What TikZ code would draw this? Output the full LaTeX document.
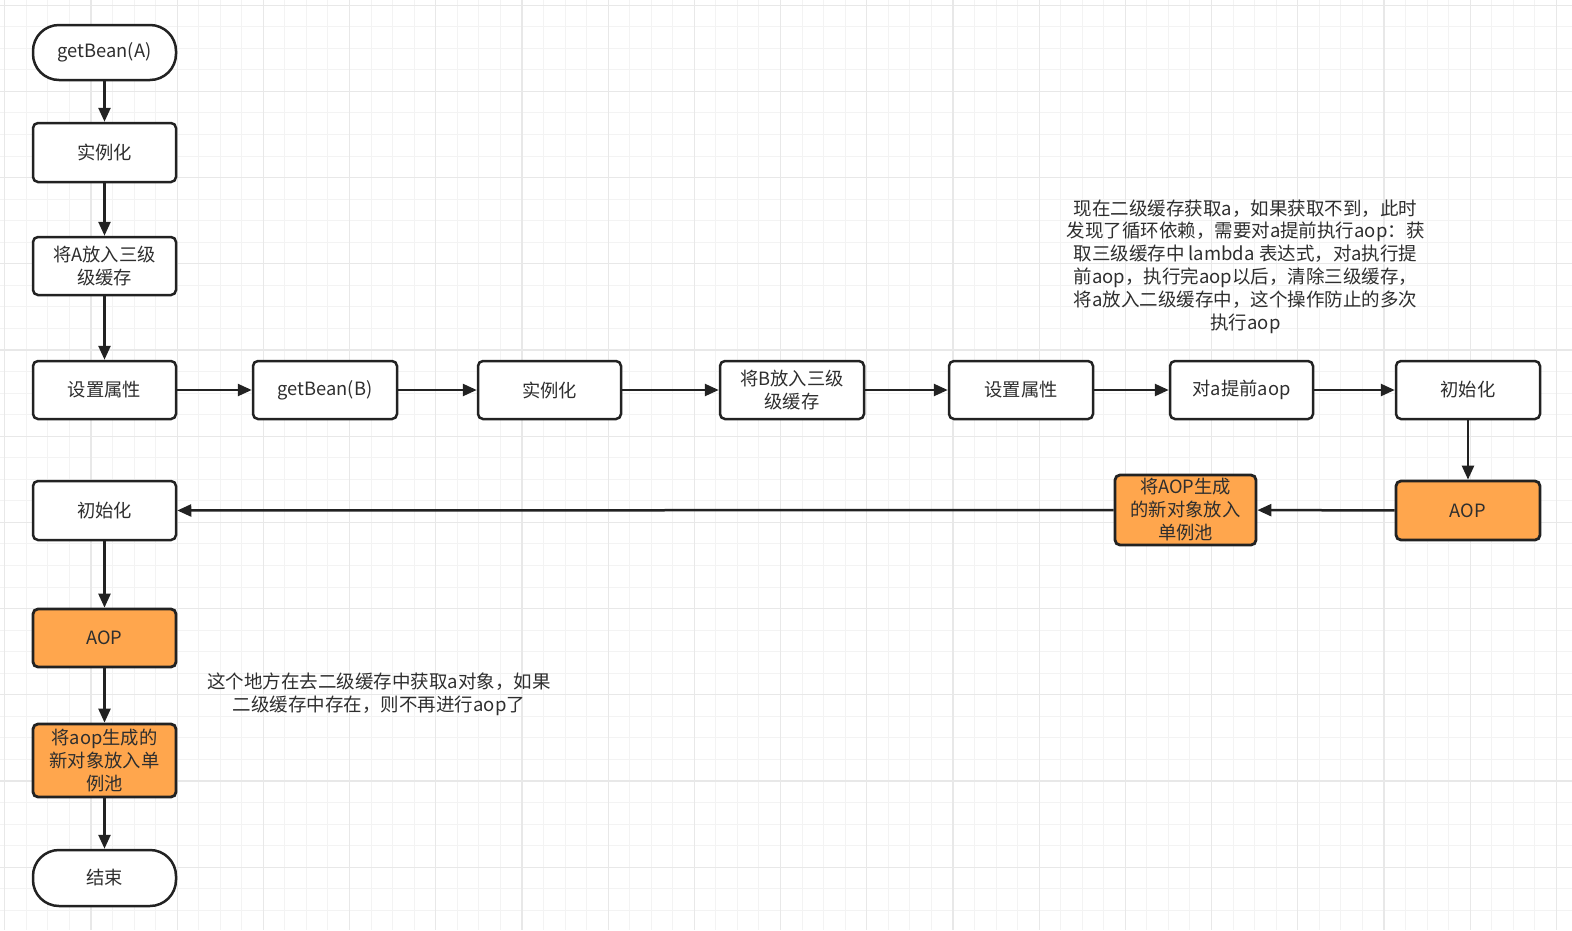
\documentclass[tikz,border=0pt]{standalone}
\usepackage{fontspec}
\setmainfont{Noto Sans CJK SC}
\usetikzlibrary{arrows.meta}
\definecolor{gminor}{HTML}{F3F3F3}
\definecolor{gmajor}{HTML}{E8E8E8}
\definecolor{edgec}{HTML}{222222}
\definecolor{txt}{HTML}{2E2E2E}
\definecolor{aopfill}{HTML}{FFA64D}
\begin{document}
\begin{tikzpicture}[x=1pt,y=-1pt,
  box/.style={draw=edgec, line width=2.5pt, rounded corners=5pt, fill=white,
    minimum width=143pt, minimum height=58pt, inner sep=0pt, align=center,
    text=txt, font=\fontsize{18.3}{23}\selectfont},
  term/.style={box, rounded corners=26pt, minimum height=55pt},
  aopbox/.style={box, fill=aopfill, line width=2.8pt},
  note/.style={align=center, text=txt, font=\fontsize{18.5}{22.8}\selectfont, inner sep=0pt},
  arr/.style={draw=edgec, line width=2.5pt, -{Triangle[length=14pt,width=12pt]}},
  minorg/.style={draw=gminor, line width=1pt},
  majorg/.style={draw=gmajor, line width=1.2pt}
]
\useasboundingbox (0,0) rectangle (1572,930);
\fill[white] (0,0) rectangle (1572,930);
\begin{scope}
\clip (0,0) rectangle (1572,930);
\foreach \i in {0,...,72} { \draw[minorg] ({4.7+21.55*\i},0) -- ({4.7+21.55*\i},930); }
\foreach \j in {0,...,43} { \draw[minorg] (0,{5.2+21.55*\j}) -- (1572,{5.2+21.55*\j}); }
\foreach \i in {0,4,...,72} { \draw[majorg] ({4.7+21.55*\i},0) -- ({4.7+21.55*\i},930); }
\foreach \j in {0,4,...,43} { \draw[majorg] (0,{5.2+21.55*\j}) -- (1572,{5.2+21.55*\j}); }
\end{scope}

% column 1
\node[term] (gA) at (104.5,52.5) {getBean(A)};
\node[box, minimum height=59pt] (s1) at (104.5,152.5) {实例化};
\node[box] (s2) at (104.5,266) {将A放入三级\\级缓存};
\node[box] (s3) at (104.5,390) {设置属性};
% row 2
\node[box, minimum width=144pt] (gB) at (325,390) {getBean(B)};
\node[box] (instB) at (549.5,390) {实例化};
\node[box, minimum width=144pt] (putB) at (792,390) {将B放入三级\\级缓存};
\node[box, minimum width=144pt] (setB) at (1021,390) {设置属性};
\node[box] (early) at (1241.5,390) {对a提前aop};
\node[box, minimum width=144pt] (initB) at (1468,390) {初始化};
% row 3
\node[aopbox, minimum width=144pt, minimum height=59pt] (aopB) at (1468,510.5) {AOP};
\node[aopbox, minimum width=141pt, minimum height=70pt] (newB) at (1185.5,510) {将AOP生成\\的新对象放入\\单例池};
\node[box, minimum height=59pt] (initA) at (104.5,510.5) {初始化};
% column 1 lower
\node[aopbox] (aopA) at (104.5,638) {AOP};
\node[aopbox, minimum height=73pt] (putA) at (104.5,760.5) {将aop生成的\\新对象放入单\\例池};
\node[term, minimum height=56pt] (end) at (104.5,878) {结束};

% notes
\node[note] (n1) at (1245.5,266.5) {现在二级缓存获取a，如果获取不到，此时\\发现了循环依赖，需要对a提前执行aop：获\\取三级缓存中 lambda 表达式，对a执行提\\前aop，执行完aop以后，清除三级缓存，\\将a放入二级缓存中，这个操作防止的多次\\执行aop};
\node[note] (n2) at (379,694) {这个地方在去二级缓存中获取a对象，如果\\二级缓存中存在，则不再进行aop了};

% connectors
\draw[arr] (gA) -- (s1);
\draw[arr] (s1) -- (s2);
\draw[arr] (s2) -- (s3);
\draw[arr] (s3) -- (gB);
\draw[arr] (gB) -- (instB);
\draw[arr] (instB) -- (putB);
\draw[arr] (putB) -- (setB);
\draw[arr] (setB) -- (early);
\draw[arr] (early) -- (initB);
\draw[arr] (initB) -- (aopB);
\draw[arr] (aopB) -- (newB);
\draw[arr] (newB) -- (initA);
\draw[arr] (initA) -- (aopA);
\draw[arr] (aopA) -- (putA);
\draw[arr] (putA) -- (end);
\end{tikzpicture}
\end{document}
